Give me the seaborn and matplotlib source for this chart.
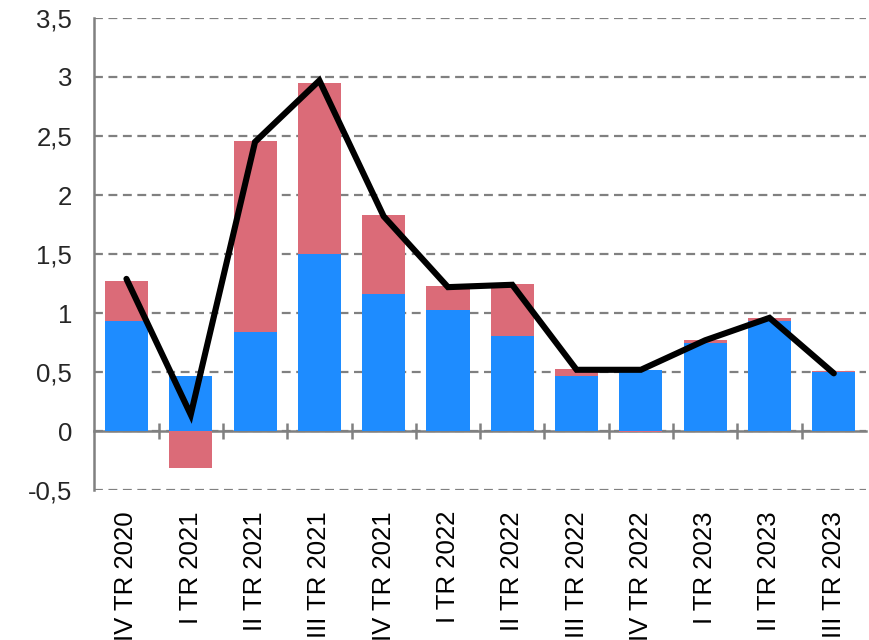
import numpy as np
import pandas as pd
import matplotlib
matplotlib.use("Agg")
import matplotlib.pyplot as plt
import seaborn as sns
from matplotlib.ticker import FuncFormatter, MultipleLocator

# Données
trimestres = ["IV TR 2020", "I TR 2021", "II TR 2021", "III TR 2021", "IV TR 2021",
              "I TR 2022", "II TR 2022", "III TR 2022", "IV TR 2022",
              "I TR 2023", "II TR 2023", "III TR 2023"]
bleu = [0.93, 0.47, 0.84, 1.50, 1.16, 1.03, 0.81, 0.47, 0.52, 0.75, 0.93, 0.50]
rouge = [0.34, -0.31, 1.62, 1.45, 0.67, 0.20, 0.44, 0.06, -0.01, 0.02, 0.03, 0.01]
ligne = [1.29, 0.14, 2.45, 2.97, 1.82, 1.22, 1.24, 0.52, 0.52, 0.77, 0.96, 0.49]

COUL_BLEU = "#1E8CFF"
COUL_ROUGE = "#DB6B78"
GRIS = "#808080"

sns.set_theme(style="white")
plt.rcParams["font.family"] = ["Liberation Sans", "DejaVu Sans"]

df = pd.DataFrame({"trimestre": trimestres, "bleu": bleu, "rouge": rouge, "ligne": ligne})
# empilement : la partie rouge positive se pose sur le bleu, la négative part de zéro
df["haut_rouge"] = np.where(df["rouge"] >= 0, df["bleu"] + df["rouge"], df["rouge"])
df["pos"] = np.arange(len(df))

fig = plt.figure(figsize=(8.69, 6.4), dpi=100)
ax = fig.add_axes([0.1085, 0.234, 0.888, 0.738])

sns.barplot(data=df, x="trimestre", y="haut_rouge", color=COUL_ROUGE, saturation=1,
            width=0.67, ax=ax, zorder=2, linewidth=0)
sns.barplot(data=df, x="trimestre", y="bleu", color=COUL_BLEU, saturation=1,
            width=0.67, ax=ax, zorder=3, linewidth=0)
sns.lineplot(data=df, x="pos", y="ligne", color="black", linewidth=4.4, ax=ax,
             zorder=4, solid_joinstyle="miter")

ax.set_xlim(-0.5, len(df) - 0.5)
ax.set_ylim(-0.5, 3.5)
ax.yaxis.set_major_locator(MultipleLocator(0.5))
ax.yaxis.set_major_formatter(FuncFormatter(lambda v, p: f"{v:g}".replace(".", ",")))
ax.set_xlabel("")
ax.set_ylabel("")

ax.set_axisbelow(True)
ax.yaxis.grid(True, color=GRIS, linestyle=(0, (4, 2.5)), linewidth=1.6)
ax.xaxis.grid(False)

for s in ["top", "right", "bottom"]:
    ax.spines[s].set_visible(False)
ax.spines["left"].set_color(GRIS)
ax.spines["left"].set_linewidth(1.8)

ax.set_xticks(df["pos"])
ax.set_xticklabels(trimestres, rotation=90, fontsize=18.5)
ax.tick_params(axis="x", length=0, pad=15, colors="black")
ax.tick_params(axis="y", labelsize=18.5, direction="in", length=4, width=1.6,
               color=GRIS, pad=16)

# axe des abscisses tracé à zéro, avec marques entre les trimestres
sec = ax.secondary_xaxis(0, transform=ax.transData)
sec.set_xticks(df["pos"][:-1] + 0.5)
sec.set_xticklabels([])
sec.tick_params(direction="inout", length=12, width=1.8, color=GRIS)
sec.spines["bottom"].set_color(GRIS)
sec.spines["bottom"].set_linewidth(1.8)

fig.savefig("out.png", dpi=100)
